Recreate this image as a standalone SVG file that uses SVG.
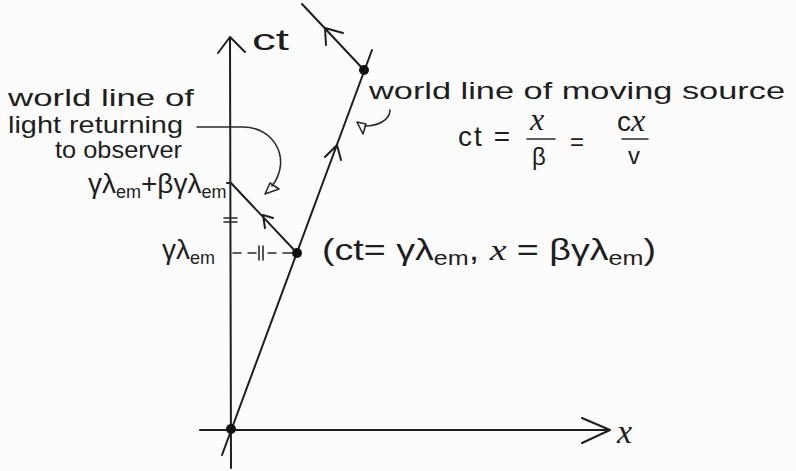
<svg xmlns="http://www.w3.org/2000/svg" width="796" height="471" viewBox="0 0 796 471">
<style>
.ln{stroke:#1e1e1e;stroke-width:2;fill:none;stroke-linecap:round;stroke-linejoin:round}
.thin{stroke:#2a2a2a;stroke-width:1.6;fill:none;stroke-linecap:round;stroke-linejoin:round}
.dot{fill:#111}
text{font-family:"Liberation Sans","DejaVu Sans",sans-serif;fill:#1e1e1e}
.lab{font-size:24px}
.big{font-size:28px}
.sub{font-size:18px}
.it{font-family:"Liberation Serif","DejaVu Serif",serif;font-style:italic}
</style>
<rect width="796" height="471" fill="#fcfcfc"/>
<g id="connectors">
  <!-- ct axis -->
  <path class="ln" d="M231,468 L230,37 M218,53 L230,37 L245,52"/>
  <!-- x axis -->
  <path class="ln" d="M200,430 L610,430 M582,418 L610,430 L582,443"/>
  <!-- world line of moving source -->
  <path class="ln" d="M222,455 L372,50 M325,157 L337,145 L341,160"/>
  <!-- light ray 1 -->
  <path class="ln" d="M297,253 L231,183 L227,183 M265,228 L263,215 L273,218"/>
  <!-- light ray 2 -->
  <path class="ln" d="M364,70 L302,4 M326,45 L325,28 L343,33"/>
  <!-- dashed gamma lambda line -->
  <path class="thin" d="M233,253 L241,253 M248,253 L256,253 M268,253 L276,253 M283,253 L292,253 M259,246 L259,260 M263,246 L263,260"/>
  <!-- equal ticks on axis -->
  <path class="thin" d="M224,218 L237,218 M224,222 L237,222"/>
  <!-- pointer from left label -->
  <path class="thin" d="M197,127 L243,127 C275,127 292,160 272,186"/>
  <polygon class="thin" points="265,194 270,183 279,189"/>
  <!-- pointer from moving source label -->
  <path class="thin" d="M390,110 C390,120 378,126 365,126"/>
  <polygon class="thin" points="357,122 363,134 366,124"/>
</g>
<g id="origin"><circle class="dot" cx="231" cy="429" r="5"/></g>
<g id="emission"><circle class="dot" cx="297" cy="253" r="5"/></g>
<g id="source"><circle class="dot" cx="364" cy="70" r="5"/></g>
<g id="labels">
  <text x="252" y="50" font-size="30" textLength="37" lengthAdjust="spacingAndGlyphs">ct</text>
  <text x="617" y="443" font-size="34" class="it">x</text>
  <text class="lab" x="8" y="106" textLength="186" lengthAdjust="spacingAndGlyphs">world line of</text>
  <text class="lab" x="8" y="133" textLength="175" lengthAdjust="spacingAndGlyphs">light returning</text>
  <text class="lab" x="55" y="158" textLength="127" lengthAdjust="spacingAndGlyphs">to observer</text>
  <text class="big" x="88" y="193">γλ<tspan class="sub" dy="5">em</tspan><tspan dy="-5">+βγλ</tspan><tspan class="sub" dy="5">em</tspan></text>
  <text class="big" x="162" y="259">γλ<tspan class="sub" dy="5">em</tspan></text>
  <text class="lab" x="369" y="99" textLength="416" lengthAdjust="spacingAndGlyphs">world line of moving source</text>
  <text font-size="30" x="322" y="260" textLength="334" lengthAdjust="spacingAndGlyphs">(ct= γλ<tspan font-size="20" dy="5">em</tspan><tspan dy="-5">,  </tspan><tspan class="it">x</tspan> = βγλ<tspan font-size="20" dy="5">em</tspan><tspan dy="-5">)</tspan></text>
  <text class="big" x="458" y="146" textLength="52" lengthAdjust="spacing">ct =</text>
  <text x="530" y="130" font-size="32" class="it">x</text>
  <path class="thin" d="M527,139 L555,139 M622,139 L648,139"/>
  <text class="lab" x="532" y="165">β</text>
  <text class="lab" x="570" y="150">=</text>
  <text class="big" x="617" y="131">c<tspan class="it" font-size="32">x</tspan></text>
  <text class="lab" x="628" y="164">v</text>
</g>
</svg>
